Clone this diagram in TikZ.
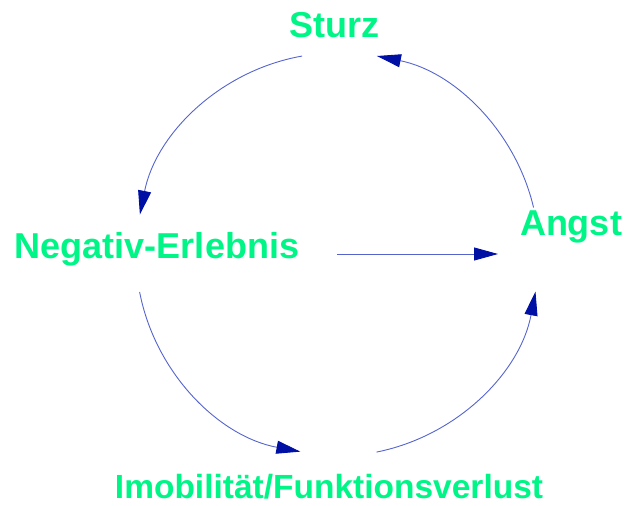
\documentclass[tikz,border=0pt]{standalone}
\usepackage{fontspec}
\setmainfont{Liberation Sans}
\usetikzlibrary{arrows.meta}
\definecolor{lbl}{RGB}{0,245,135}
\definecolor{arcline}{RGB}{85,100,205}
\definecolor{tipcol}{RGB}{0,16,165}
\tikzset{
  lbl/.style={text=lbl, font=\bfseries\fontsize{36}{40}\selectfont, inner sep=0pt, anchor=base},
  flow/.style={draw=arcline, line width=0.9pt, -{Triangle[length=24pt,width=13pt,color=tipcol,fill=tipcol]}}
}
\begin{document}
\begin{tikzpicture}[x=1pt,y=1pt]
\useasboundingbox (0,0) rectangle (627,-506);
\coordinate (O) at (337,-254);
\node[lbl] (sturz) at (334.5,-37) {Sturz};
\node[lbl] (neg) at (157,-258) {Negativ-Erlebnis};
\node[lbl] (angst) at (571,-235) {Angst};
\node[lbl, font=\bfseries\fontsize{33.5}{38}\selectfont] (imob) at (329,-498.5) {Imobilität/Funktionsverlust};
\coordinate (t1) at ([shift={(100:201)}]O);
\coordinate (t2) at ([shift={(190.9:201)}]O);
\coordinate (t3) at ([shift={(281.3:202)}]O);
\coordinate (t4) at ([shift={(13.3:202)}]O);
\coordinate (arrowend) at (498,-254);
\draw[flow] (t1) arc[start angle=100, end angle=168.7, radius=201];
\draw[flow] (t2) arc[start angle=190.9, end angle=259.5, radius=201];
\draw[flow] (t3) arc[start angle=281.3, end angle=349.3, radius=202];
\draw[flow] (t4) arc[start angle=13.3, end angle=78.6, radius=202];
\draw[flow] (O) -- (arrowend);
\end{tikzpicture}
\end{document}
